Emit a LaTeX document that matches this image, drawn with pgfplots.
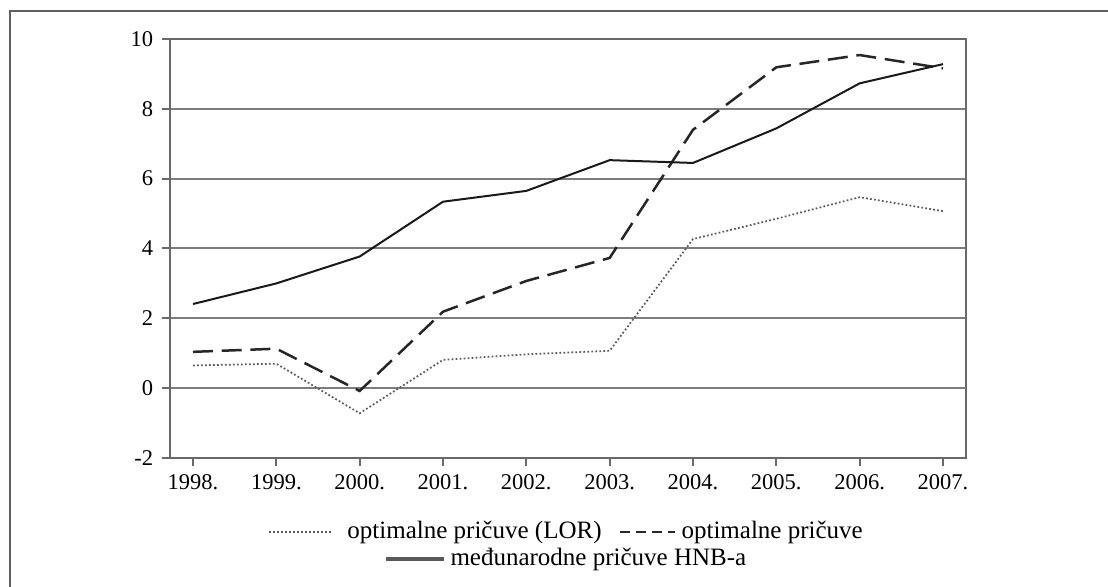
\documentclass[border=0pt]{standalone}
\usepackage{fontspec}
\setmainfont{Liberation Serif}
\usepackage{pgfplots}
\pgfplotsset{compat=1.18}

\definecolor{gridgray}{RGB}{125,125,125}
\definecolor{axisgray}{RGB}{105,105,105}
\definecolor{framegray}{RGB}{95,95,95}
\definecolor{dotgray}{RGB}{90,90,90}

% 1 px of the reference = 0.4pt
\begin{document}
\begin{tikzpicture}
\useasboundingbox (0,0) rectangle (443.2pt,234.8pt);
\draw[framegray, line width=1.1pt] (4pt,-20pt) -- (4pt,230.4pt) -- (460pt,230.4pt);

\pgfplotsset{
  refaxis/.style={
    at={(68pt,51.6pt)}, anchor=south west,
    scale only axis,
    width=318.4pt, height=167.6pt,
    xmin=1997.724, xmax=2007.276,
    ymin=-2, ymax=10,
  },
}

\begin{axis}[
  refaxis,
  xtick={1998,...,2007},
  xticklabels={1998.,1999.,2000.,2001.,2002.,2003.,2004.,2005.,2006.,2007.},
  ytick={-2,0,...,10},
  /pgf/number format/assume math mode=true,
  tick pos=left,
  tick align=outside,
  major tick length=3.2pt,
  tick style={axisgray, line width=0.8pt},
  axis line style={axisgray, line width=0.8pt},
  ymajorgrids=true,
  grid style={gridgray, line width=0.8pt},
  ticklabel style={font=\fontsize{9}{10}\selectfont, black},
  legend columns=2,
  legend style={at={(0.5,-0.1766)}, anchor=center, draw=none, fill=none,
    font=\fontsize{10}{12}\selectfont,
    /tikz/every even column/.append style={column sep=5pt}},
]
\addplot[dotgray, line width=0.7pt, dash pattern=on 0.7pt off 0.9pt,
  legend image code/.code={\draw[dotgray, line width=0.7pt, dash pattern=on 0.7pt off 0.9pt] (0,0) -- (25pt,0);}]
  coordinates {(1998,0.65)(1999,0.70)(2000,-0.72)(2001,0.81)(2002,0.97)(2003,1.07)(2004,4.27)(2005,4.85)(2006,5.47)(2007,5.07)};
\addlegendentry{\hspace{4pt}optimalne pričuve (LOR)}
\addplot[black!85, line width=1pt, dash pattern=on 8pt off 3.5pt,
  legend image code/.code={\draw[black!85, line width=1pt, dash pattern=on 4pt off 2.3pt] (0,0) -- (22pt,0);}]
  coordinates {(1998,1.04)(1999,1.13)(2000,-0.08)(2001,2.19)(2002,3.07)(2003,3.73)(2004,7.40)(2005,9.19)(2006,9.54)(2007,9.16)};
\addlegendentry{optimalne pričuve}
\addplot[black!90, line width=0.8pt, forget plot]
  coordinates {(1998,2.41)(1999,3.00)(2000,3.77)(2001,5.34)(2002,5.65)(2003,6.53)(2004,6.45)(2005,7.44)(2006,8.73)(2007,9.28)};
\end{axis}

\begin{axis}[
  refaxis,
  hide axis,
  legend style={at={(0.5,-0.2411)}, anchor=center, draw=none, fill=none,
    font=\fontsize{10}{12}\selectfont},
]
\addlegendimage{black!70, line width=1.3pt,
  legend image code/.code={\draw[black!65, line width=1.3pt] (0,0) -- (23pt,0);}}
\addlegendentry{međunarodne pričuve HNB-a}
\end{axis}
\end{tikzpicture}
\end{document}
